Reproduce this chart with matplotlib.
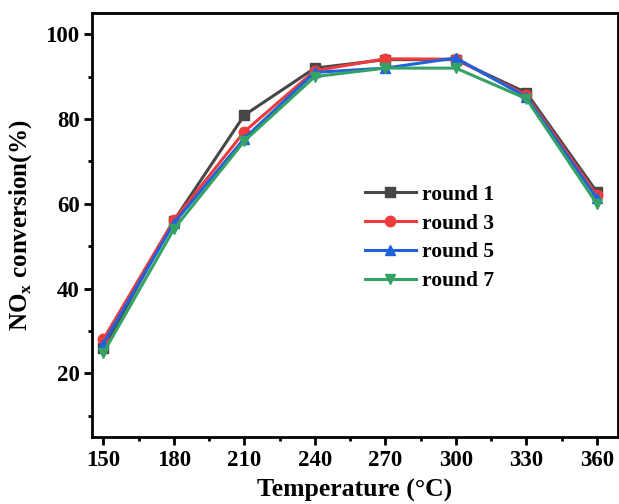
import matplotlib
matplotlib.use("Agg")
import matplotlib.pyplot as plt
from matplotlib.ticker import MultipleLocator

temps = [150, 180, 210, 240, 270, 300, 330, 360]
round1 = [25.9, 56.0, 80.9, 92.0, 94.0, 94.0, 86.2, 62.8]
round3 = [28.0, 56.1, 77.0, 91.4, 94.2, 94.1, 85.6, 62.0]
round5 = [27.0, 55.4, 75.4, 91.0, 92.0, 94.4, 85.2, 61.3]
round7 = [24.8, 54.0, 74.8, 90.0, 92.0, 92.0, 84.8, 60.0]
labels = ["round 1", "round 3", "round 5", "round 7"]
xticks = [150, 180, 210, 240, 270, 300, 330, 360]
yticks = [20, 40, 60, 80, 100]

plt.rcParams['font.family'] = ['Liberation Serif', 'DejaVu Serif']
plt.rcParams['font.weight'] = 'bold'
plt.rcParams['mathtext.fontset'] = 'custom'
plt.rcParams['mathtext.bf'] = 'Liberation Serif:bold'
plt.rcParams['mathtext.rm'] = 'Liberation Serif:bold'

fig = plt.figure(figsize=(6.19, 5.04), dpi=100)
ax = fig.add_axes([92/619, 1-437/504, 526/619, 424/504])

series = [round1, round3, round5, round7]
colors = ["#474747", "#ef3b3b", "#1f63dc", "#35a265"]
markers = ["s", "o", "^", "v"]
for ys, c, m, lab in zip(series, colors, markers, labels):
    ax.plot(temps, ys, color=c, marker=m, markersize=7.5, lw=2.2, label=lab)

ax.set_xlim(145.2, 369)
ax.set_ylim(5, 105)
ax.set_xticks(xticks)
ax.set_yticks(yticks)
ax.xaxis.set_minor_locator(MultipleLocator(15))
ax.yaxis.set_minor_locator(MultipleLocator(10))
ax.tick_params(which='major', direction='out', length=6, width=2, labelsize=16.5, pad=3,
               top=False, right=False)
ax.tick_params(which='minor', direction='out', length=3, width=2, top=False, right=False)
for lab in ax.get_xticklabels() + ax.get_yticklabels():
    lab.set_fontweight('bold')
for s in ax.spines.values():
    s.set_linewidth(2)

ax.set_xlabel("Temperature (°C)", fontsize=18.5, fontweight='bold', labelpad=6)
ax.set_ylabel(r"NO$_\mathbf{x}$ conversion(%)", fontsize=18, fontweight='bold', labelpad=8)

leg = ax.legend(loc='upper left', bbox_to_anchor=(0.49, 0.63), frameon=False,
                prop={'family': 'Liberation Serif', 'weight': 'bold', 'size': 15.5},
                handlelength=2.37, handletextpad=0.3, labelspacing=0.4, borderpad=0.2)

fig.savefig("out.png", dpi=100)
